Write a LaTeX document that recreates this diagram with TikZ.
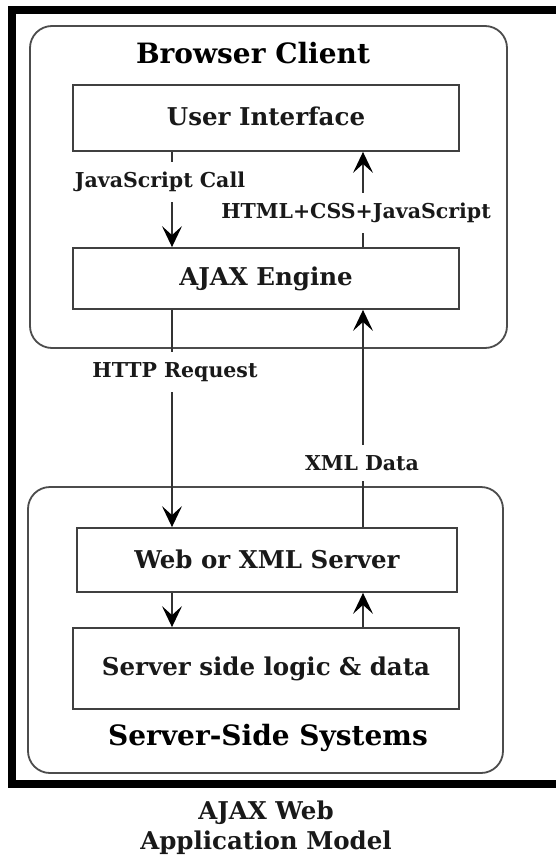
\documentclass[tikz,border=0pt]{standalone}
\usepackage{fontspec}
\setmainfont{DejaVu Serif}
\usetikzlibrary{arrows.meta}

\tikzset{
  boxlabel/.style={font=\bfseries\fontsize{24.5}{29}\selectfont},
  headlabel/.style={font=\bfseries\fontsize{28}{32}\selectfont},
  flowlabel/.style={font=\bfseries\fontsize{20.5}{24}\selectfont},
  layerbox/.style={draw=black!70, line width=1.8pt, rounded corners=22pt},
  compbox/.style={draw=black!75, line width=1.8pt, boxlabel, inner sep=0pt, text=black!90},
  flow/.style={draw=black!80, line width=1.7pt,
    -{Stealth[length=21pt,width=20pt,inset=9pt,color=black]}},
  gaplabel/.style={flowlabel, fill=white, inner xsep=2pt, inner ysep=10pt, text=black!90}
}

\begin{document}
\begin{tikzpicture}[x=1pt,y=-1pt]
  \useasboundingbox (0,0) rectangle (555,859);
  \fill[white] (0,0) rectangle (555,859);

  % heavy frame, running off the right edge
  \draw[line width=7.5pt, black] (12,10) rectangle (600,784);

  % the two layers
  \draw[layerbox] (30,26) rectangle (507,348);
  \draw[layerbox] (28,487) rectangle (503,773);

  \node[headlabel] (bc) at (253,53) {Browser Client};
  \node[headlabel] (ss) at (268,738) {Server-Side Systems};

  % components
  \node[compbox, minimum width=386pt, minimum height=66pt] (ui) at (266,118) {\raisebox{3pt}{User Interface}};
  \node[compbox, minimum width=386pt, minimum height=61pt] (ajax) at (266,278.5) {AJAX Engine};
  \node[compbox, minimum width=380pt, minimum height=64pt] (web) at (267,560) {\raisebox{2pt}{Web or XML Server}};
  \node[compbox, minimum width=386pt, minimum height=81pt] (logic) at (266,668.5) {Server side logic \& data};

  % columns of the request and response paths
  \coordinate (down) at (172,0);
  \coordinate (up) at (363,0);

  % connectors
  \draw[flow] (ui.south -| down) -- (ajax.north -| down);
  \draw[flow] (ajax.north -| up) -- (ui.south -| up);
  \draw[flow] (ajax.south -| down) -- (web.north -| down);
  \draw[flow] (web.north -| up) -- (ajax.south -| up);
  \draw[flow] (web.south -| down) -- (logic.north -| down);
  \draw[flow] (logic.north -| up) -- (web.south -| up);

  % labels sitting on the connectors
  \node[gaplabel] (jsc) at (160,182) {JavaScript Call};
  \node[gaplabel] (html) at (356,213) {HTML+CSS+JavaScript};
  \node[gaplabel] (http) at (175,372) {HTTP Request};
  \node[gaplabel] (xml) at (362,463) {XML Data};

  % caption
  \node[boxlabel, align=center, text=black!90, font=\bfseries\fontsize{24.5}{30}\selectfont] (cap) at (266,828) {AJAX Web\\Application Model};
\end{tikzpicture}
\end{document}
